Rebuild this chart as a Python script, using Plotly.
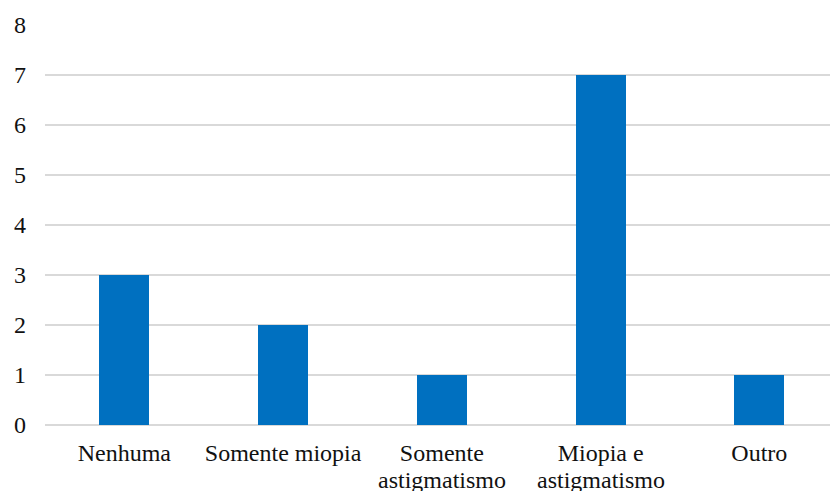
import plotly.graph_objects as go

categories = ["Nenhuma", "Somente miopia", "Somente<br>astigmatismo", "Miopia e<br>astigmatismo", "Outro"]
counts = [3, 2, 1, 7, 1]
y_ticks = [0, 1, 2, 3, 4, 5, 6, 7, 8]

font = dict(family="Liberation Serif, Times New Roman, serif", size=24, color="#111111")

# split category labels into their first line (tick text) and optional second line
first_lines = [c.split("<br>")[0] for c in categories]
second_lines = [c.split("<br>")[1] if "<br>" in c else "" for c in categories]

fig = go.Figure(
    go.Bar(
        x=list(range(len(categories))),
        y=counts,
        width=0.315,
        marker=dict(color="#0070C0", line=dict(width=0)),
    )
)

fig.update_layout(
    width=830,
    height=491,
    margin=dict(l=45, r=0, t=25, b=66),
    paper_bgcolor="white",
    plot_bgcolor="white",
    font=font,
    showlegend=False,
    bargap=0,
)

# second line of wrapped labels, set closer than plotly's default line height
for i, line in enumerate(second_lines):
    if line:
        fig.add_annotation(
            x=i, y=0, xref="x", yref="paper",
            text=line, showarrow=False,
            xanchor="center", yanchor="top",
            yshift=-40, font=font,
        )

fig.update_xaxes(
    range=[-0.5, 4.445],
    tickmode="array",
    tickvals=list(range(len(categories))),
    ticktext=first_lines,
    showgrid=False,
    zeroline=False,
    showline=False,
    ticks="",
    tickfont=font,
    ticklabelstandoff=11,
    automargin=False,
)

fig.update_yaxes(
    range=[0, 8],
    tickmode="array",
    tickvals=y_ticks,
    showgrid=True,
    gridcolor="#D9D9D9",
    gridwidth=1.5,
    zeroline=True,
    zerolinecolor="#D9D9D9",
    zerolinewidth=1.5,
    showline=False,
    ticks="",
    tickfont=font,
    ticklabelstandoff=18,
    automargin=False,
)

fig.write_html("out.html")
